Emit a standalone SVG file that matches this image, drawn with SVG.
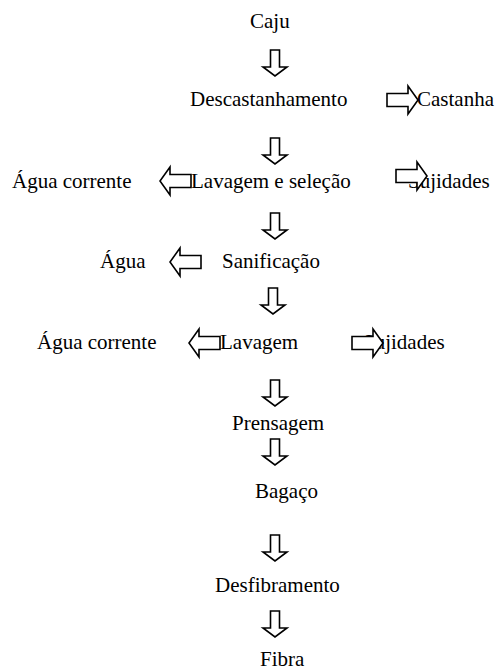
<svg xmlns="http://www.w3.org/2000/svg" xmlns:xlink="http://www.w3.org/1999/xlink" width="500" height="672" viewBox="0 0 500 672">
<style>
text{font-family:"Liberation Serif","Times New Roman",serif;font-size:21px;fill:#000}
.arr{fill:#fff;stroke:#000;stroke-width:1.6;stroke-linejoin:miter}
</style>
<defs>
<path id="down" class="arr" d="M-4.5,0 H4.5 V17 H12 L0,26 L-12,17 H-4.5 Z"/>
<path id="right" class="arr" d="M0,-6.5 H21 V-14 L31,0 L21,14 V6.5 H0 Z"/>
<path id="left" class="arr" d="M31,-6.5 H10 V-14 L0,0 L10,14 V6.5 H31 Z"/>
</defs>
<rect width="500" height="672" fill="#fff"/>
<g id="caju"><text x="250" y="28">Caju</text></g>
<g id="descastanhamento"><text x="190" y="106">Descastanhamento</text></g>
<g id="castanha"><text x="417" y="106">Castanha</text></g>
<g id="agua-corrente-1"><text x="12" y="188">Água corrente</text></g>
<g id="lavagem-selecao"><text x="191" y="188">Lavagem e seleção</text></g>
<g id="sujidades-1"><text x="408" y="188">Sujidades</text></g>
<g id="agua"><text x="100" y="268">Água</text></g>
<g id="sanificacao"><text x="222" y="268">Sanificação</text></g>
<g id="agua-corrente-2"><text x="37" y="349">Água corrente</text></g>
<g id="lavagem"><text x="220" y="349">Lavagem</text></g>
<g id="sujidades-2"><text x="363" y="349">Sujidades</text></g>
<g id="prensagem"><text x="232" y="430">Prensagem</text></g>
<g id="bagaco"><text x="255" y="498">Bagaço</text></g>
<g id="desfibramento"><text x="215" y="592">Desfibramento</text></g>
<g id="fibra"><text x="260" y="666">Fibra</text></g>
<g id="connectors">
<use xlink:href="#down" x="275" y="50"/>
<use xlink:href="#right" x="387" y="100"/>
<use xlink:href="#down" x="275" y="138"/>
<use xlink:href="#left" x="160" y="181"/>
<use xlink:href="#right" x="396" y="176"/>
<use xlink:href="#down" x="275" y="213"/>
<use xlink:href="#left" x="170" y="262"/>
<use xlink:href="#down" x="273" y="288"/>
<use xlink:href="#left" x="189" y="343"/>
<use xlink:href="#right" x="352" y="343"/>
<use xlink:href="#down" x="275" y="380"/>
<use xlink:href="#down" x="275" y="439"/>
<use xlink:href="#down" x="275" y="535"/>
<use xlink:href="#down" x="275" y="611"/>
</g>
</svg>
